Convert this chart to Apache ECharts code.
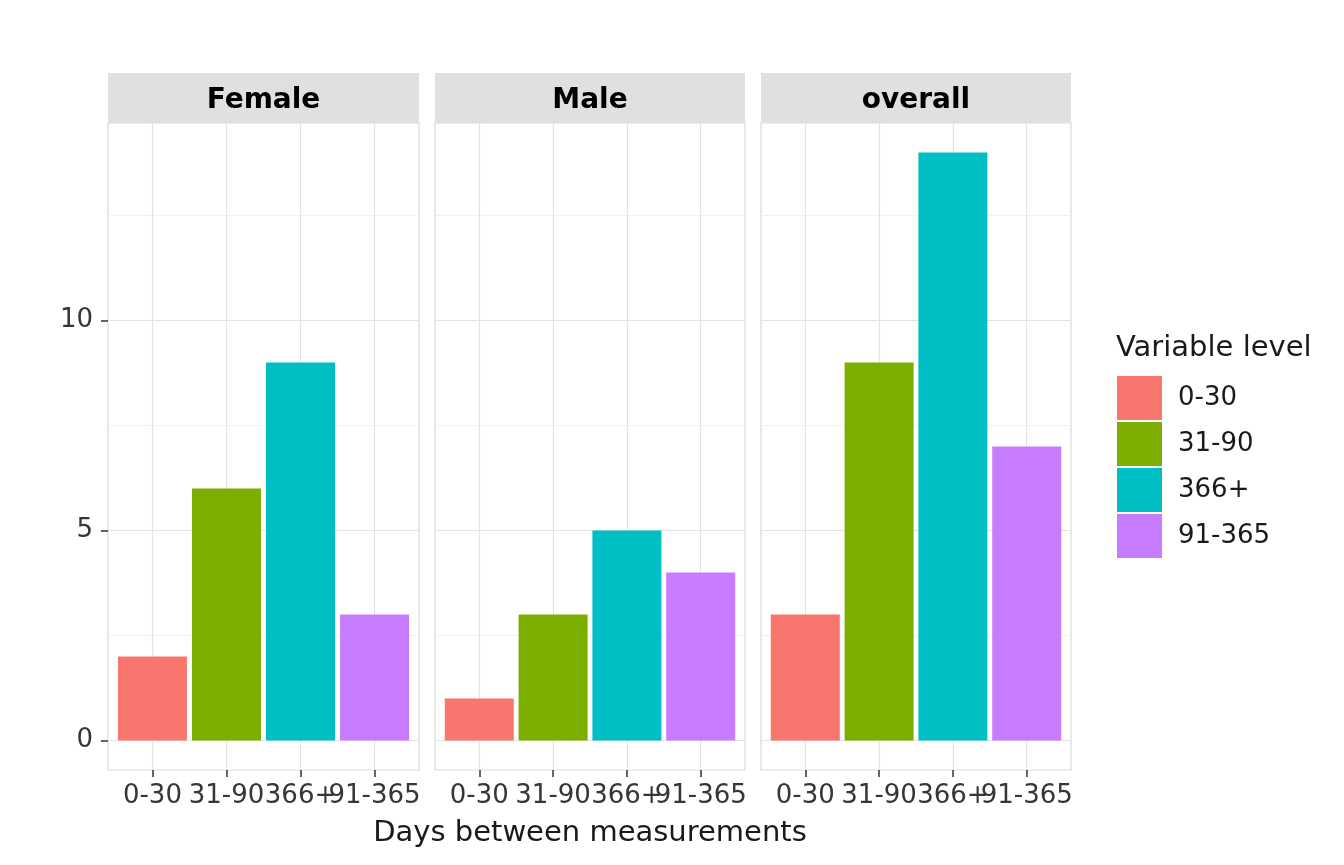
<!DOCTYPE html>
<html>
<head>
<meta charset="utf-8">
<script src="https://cdn.jsdelivr.net/npm/echarts@6/dist/echarts.min.js"></script>
<style>html,body{margin:0;padding:0;background:#fff;}#c{width:1344px;height:865px;}</style>
</head>
<body>
<div id="c"></div>
<script>
// ---- data ----
const panels = ['Female', 'Male', 'overall'];
const categories = ['0-30', '31-90', '366+', '91-365'];
const femaleValues = [2, 6, 9, 3];
const maleValues = [1, 3, 5, 4];
const overallValues = [3, 9, 14, 7];
const yMajorTicks = [0, 5, 10];
const yMinorTicks = [2.5, 7.5, 12.5];
const colors = ['#F8766D', '#7CAE00', '#00BFC4', '#C77CFF'];
const panelValues = [femaleValues, maleValues, overallValues];

// ---- layout ----
const FONT = 'DejaVu Sans';
const gridLefts = [108, 435, 761];
const gridWidths = [311, 310, 310];
const gridTop = 123, gridHeight = 647;
const stripTop = 73, stripH = 50;

const chart = echarts.init(document.getElementById('c'));

const catPos = categories.map((c, i) => i + 1);
const grids = [], xAxes = [], yAxes = [], series = [], graphics = [];

function makeX(gi, vals, withGrid, withName) {
  return {
    type: 'value', gridIndex: gi, min: 0.4, max: 4.6, position: 'bottom',
    axisLine: {show: false, onZero: false},
    axisTick: {show: true, customValues: vals, length: 7, lineStyle: {color: '#333', width: 1.5}},
    axisLabel: {show: true, customValues: vals, formatter: v => categories[Math.round(v) - 1],
      showMinLabel: true, showMaxLabel: true, hideOverlap: false,
      color: '#363636', fontFamily: FONT, fontSize: 26, margin: 13},
    splitLine: {show: withGrid, lineStyle: {color: '#e3e3e3', width: 1.2}},
    name: withName ? 'Days between measurements' : '',
    nameLocation: 'middle', nameGap: 49,
    nameTextStyle: {color: '#1a1a1a', fontFamily: FONT, fontSize: 29}
  };
}

panels.forEach((p, gi) => {
  grids.push({left: gridLefts[gi], top: gridTop, width: gridWidths[gi], height: gridHeight,
    show: true, borderColor: '#dadada', borderWidth: 1.2, backgroundColor: '#fff', containLabel: false});
  // odd/even split so neighbouring labels may overlap like the reference
  xAxes.push(makeX(gi, catPos.filter(v => v % 2 === 1), true, gi === 1));
  xAxes.push(makeX(gi, catPos.filter(v => v % 2 === 0), true, false));
  // major y axis
  yAxes.push({
    type: 'value', gridIndex: gi, min: -0.7, max: 14.7,
    axisLine: {show: false, onZero: false},
    axisTick: {show: gi === 0, customValues: yMajorTicks, length: 7, lineStyle: {color: '#333', width: 1.5}},
    axisLabel: {show: gi === 0, customValues: yMajorTicks, showMinLabel: true, showMaxLabel: true,
      color: '#363636', fontFamily: FONT, fontSize: 26, margin: 15, padding: [4, 0, 0, 0]},
    splitLine: {show: true, lineStyle: {color: '#e3e3e3', width: 1.2}}
  });
  // minor y grid lines
  yAxes.push({
    type: 'value', gridIndex: gi, min: -0.7, max: 14.7,
    axisLine: {show: false, onZero: false},
    axisTick: {show: false, customValues: yMinorTicks},
    axisLabel: {show: false},
    splitLine: {show: true, lineStyle: {color: '#f1f1f1', width: 1}}
  });
  const vals = panelValues[gi];
  categories.forEach((c, ci) => {
    series.push({
      type: 'bar', name: c, xAxisIndex: gi * 2, yAxisIndex: gi * 2,
      data: [[ci + 1, vals[ci]]],
      barWidth: 69, barGap: '-100%',
      itemStyle: {color: colors[ci]},
      emphasis: {disabled: true}
    });
  });
  // strip
  graphics.push({type: 'rect', shape: {x: gridLefts[gi], y: stripTop, width: gridWidths[gi], height: stripH},
    style: {fill: '#e0e0e0'}, silent: true});
  graphics.push({type: 'text', x: gridLefts[gi] + gridWidths[gi] / 2, y: stripTop + stripH / 2 + 3,
    style: {text: p, fill: '#000', font: 'bold 28px "DejaVu Sans"', textAlign: 'center', textVerticalAlign: 'middle'}, silent: true});
});
graphics.push({type: 'text', x: 1116, y: 348,
  style: {text: 'Variable level', fill: '#1a1a1a', font: '29px "DejaVu Sans"', textAlign: 'left', textVerticalAlign: 'middle'}, silent: true});

chart.setOption({
  animation: false,
  backgroundColor: '#fff',
  grid: grids, xAxis: xAxes, yAxis: yAxes, series: series,
  legend: {
    data: categories, orient: 'vertical', left: 1117, top: 376, padding: 0,
    itemWidth: 45, itemHeight: 44, itemGap: 2, icon: 'rect',
    textStyle: {fontFamily: FONT, fontSize: 26, color: '#1a1a1a', padding: [7, 0, 0, 11]},
    selectedMode: false
  },
  graphic: graphics
});
</script>
</body>
</html>
